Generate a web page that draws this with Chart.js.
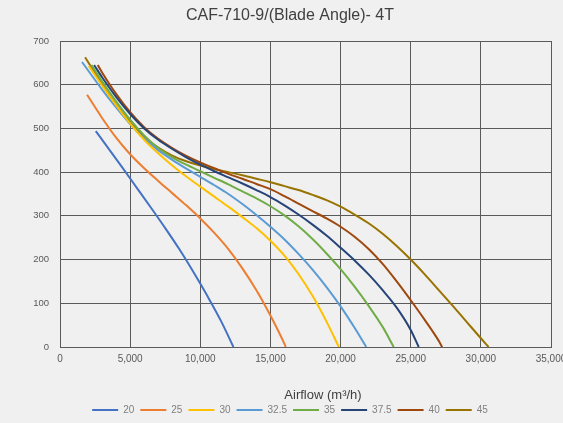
<!DOCTYPE html>
<html>
<head>
<meta charset="utf-8">
<script src="https://cdn.jsdelivr.net/npm/chart.js@4"></script>
<style>
html,body{margin:0;padding:0;background:#f0f0f0;}
#wrap{width:563px;height:423px;position:relative;}
</style>
</head>
<body>
<div id="wrap"><canvas id="c" width="563" height="423"></canvas></div>
<script>
// ---- Data ----
const chartTitle = 'CAF-710-9/(Blade Angle)- 4T';
const xAxisTitle = 'Airflow (m³/h)';
const bladeAngles = ['20', '25', '30', '32.5', '35', '37.5', '40', '45'];
const seriesColors = ['#4472C4', '#ED7D31', '#FFC000', '#5B9BD5', '#70AD47', '#264478', '#9E480E', '#997300'];

const airflow20  = [2550, 3500, 4500, 5500, 6500, 7500, 8500, 9500, 10500, 11500, 12360];
const pressure20 = [494, 452, 408, 363, 318, 272, 224, 172, 117, 58, 0];

const airflow25  = [1930, 3000, 4000, 5000, 6000, 7000, 8000, 9000, 10000, 11000, 12000, 13000, 14000, 15000, 16000, 16090];
const pressure25 = [577, 524, 479, 441, 409, 380, 352, 324, 294, 261, 224, 180, 130, 72, 7, 0];

const airflow30  = [2050, 3000, 4000, 5000, 6000, 7000, 8000, 9000, 10000, 11000, 12000, 13000, 14000, 15000, 16000, 17000, 18000, 19000, 19880];
const pressure30 = [643, 598, 553, 511, 474, 443, 415, 390, 367, 344, 321, 297, 272, 243, 209, 167, 117, 58, 0];

const airflow32_5  = [1570, 3000, 4000, 5000, 6000, 7000, 8000, 9000, 10000, 11000, 12000, 13000, 14000, 15000, 16000, 17000, 18000, 19000, 20000, 21000, 21830];
const pressure32_5 = [652, 589, 548, 510, 477, 450, 428, 408, 389, 370, 350, 327, 302, 275, 246, 213, 177, 137, 93, 44, 0];

const airflow35  = [2240, 3000, 4000, 5000, 6000, 7000, 8000, 9000, 10000, 11000, 12000, 13000, 14000, 15000, 16000, 17000, 18000, 19000, 20000, 21000, 22000, 23000, 23790];
const pressure35 = [645, 608, 562, 520, 484, 455, 434, 417, 402, 387, 372, 356, 340, 322, 301, 276, 247, 214, 178, 138, 94, 46, 0];

const airflow37_5  = [2430, 3000, 4000, 5000, 6000, 7000, 8000, 9000, 10000, 11000, 12000, 13000, 14000, 15000, 16000, 17000, 18000, 19000, 20000, 21000, 22000, 23000, 24000, 25000, 25570];
const pressure37_5 = [645, 617, 572, 533, 500, 474, 453, 434, 417, 402, 388, 374, 359, 343, 324, 303, 280, 255, 227, 198, 166, 130, 90, 39, 0];

const airflow40  = [2690, 3000, 4000, 5000, 6000, 7000, 8000, 9000, 10000, 11000, 12000, 13000, 14000, 15000, 16000, 17000, 18000, 19000, 20000, 21000, 22000, 23000, 24000, 25000, 26000, 27000, 27240];
const pressure40 = [645, 628, 579, 537, 503, 476, 455, 437, 422, 409, 396, 385, 373, 361, 345, 328, 311, 294, 275, 252, 224, 190, 150, 107, 62, 14, 0];

const airflow45  = [1790, 3000, 4000, 5000, 6000, 7000, 8000, 9000, 10000, 11000, 12000, 13000, 14000, 15000, 16000, 17000, 18000, 19000, 20000, 21000, 22000, 23000, 24000, 25000, 26000, 27000, 28000, 29000, 30000, 30550];
const pressure45 = [663, 601, 554, 514, 481, 456, 438, 425, 415, 407, 400, 393, 385, 377, 368, 359, 348, 336, 321, 303, 283, 259, 231, 200, 166, 130, 94, 57, 20, 0];

const xTickValues = [0, 5000, 10000, 15000, 20000, 25000, 30000, 35000];
const yTickValues = [0, 100, 200, 300, 400, 500, 600, 700];

// ---- Build datasets ----
const airflowSets  = [airflow20, airflow25, airflow30, airflow32_5, airflow35, airflow37_5, airflow40, airflow45];
const pressureSets = [pressure20, pressure25, pressure30, pressure32_5, pressure35, pressure37_5, pressure40, pressure45];

const datasets = bladeAngles.map((name, i) => ({
  label: name,
  data: airflowSets[i].map((x, j) => ({x: x, y: pressureSets[i][j]})),
  borderColor: seriesColors[i],
  backgroundColor: seriesColors[i],
  borderWidth: 2,
  pointRadius: 0,
  showLine: true,
  fill: false,
  cubicInterpolationMode: 'monotone'
}));

const FONT = '"Liberation Sans", Arial, sans-serif';

const bgPlugin = {
  id: 'bg',
  beforeDraw(chart) {
    const c = chart.ctx;
    c.save();
    c.fillStyle = '#f0f0f0';
    c.fillRect(0, 0, chart.width, chart.height);
    c.restore();
  }
};

const textPlugin = {
  id: 'texts',
  afterDraw(chart) {
    const c = chart.ctx;
    c.save();
    c.textAlign = 'center';
    c.textBaseline = 'middle';
    c.fillStyle = '#404040';
    c.font = '16px ' + FONT;
    c.fillText(chartTitle, 290, 16);
    c.font = '13px ' + FONT;
    c.fillText(xAxisTitle, 323, 395);
    c.restore();
  }
};

new Chart(document.getElementById('c'), {
  type: 'scatter',
  data: { datasets },
  options: {
    responsive: false,
    animation: false,
    layout: { padding: { left: 17, right: 0, top: 41, bottom: -2 } },
    plugins: {
      title: { display: false },
      tooltip: { enabled: false },
      legend: {
        position: 'bottom',
        labels: {
          boxWidth: 26,
          boxHeight: 2,
          padding: 6,
          color: '#808080',
          font: { size: 10, family: FONT },
          generateLabels: (chart) => Chart.defaults.plugins.legend.labels.generateLabels(chart).map(l => Object.assign(l, { lineWidth: 0 }))
        }
      }
    },
    scales: {
      x: {
        type: 'linear',
        min: 0,
        max: 35000,
        afterBuildTicks: (s) => { s.ticks = xTickValues.map(v => ({ value: v })); },
        ticks: {
          color: '#595959',
          font: { size: 10, family: FONT },
          padding: 6,
          maxRotation: 0,
          autoSkip: false,
          callback: (v) => Number(v).toLocaleString('en-US')
        },
        grid: { color: '#5a5a5a', lineWidth: 1, drawTicks: false },
        border: { color: '#5a5a5a' },
        afterFit: (s) => { s.paddingRight = 12; s.paddingLeft = 0; s.height = 52; }
      },
      y: {
        min: 0,
        max: 700,
        afterBuildTicks: (s) => { s.ticks = yTickValues.map(v => ({ value: v })); },
        ticks: {
          color: '#595959',
          font: { size: 9.5, family: FONT },
          padding: 11
        },
        grid: { color: '#5a5a5a', lineWidth: 1, drawTicks: false },
        border: { color: '#5a5a5a' },
        afterFit: (s) => { s.width = 43; s.paddingTop = 0; s.paddingBottom = 0; }
      }
    }
  },
  plugins: [bgPlugin, textPlugin]
});
</script>
</body>
</html>
